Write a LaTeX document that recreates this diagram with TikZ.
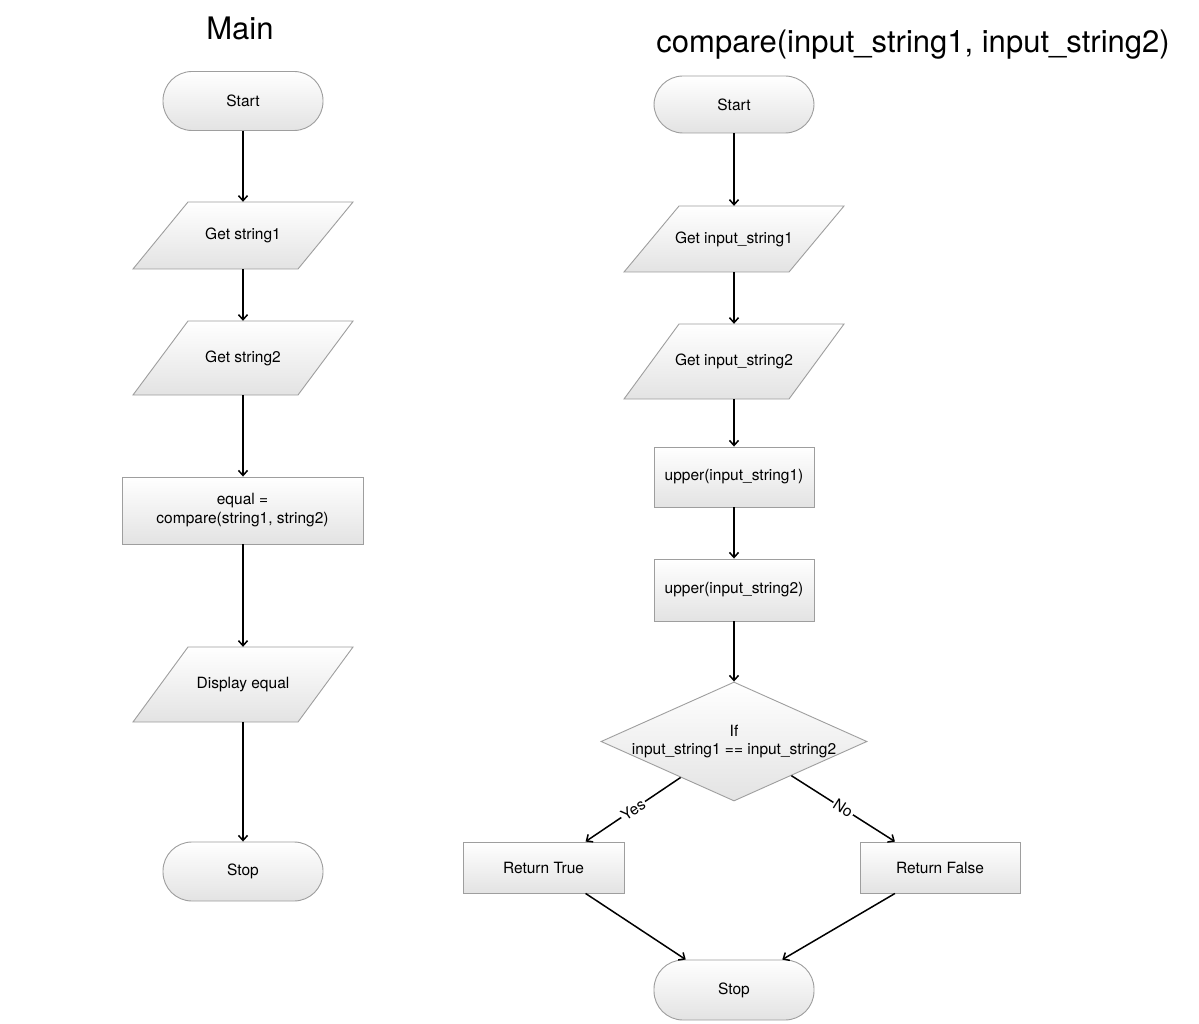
\documentclass[tikz,border=0pt]{standalone}
\usepackage{fontspec}
\setmainfont{TeX Gyre Heros}
\usetikzlibrary{shapes.geometric,arrows.meta,calc}
\tikzset{
  boxfill/.style={draw=black!38, line width=0.9pt, top color=white, bottom color=black!11},
  term/.style={boxfill, rectangle, rounded corners=29pt, minimum width=160pt, inner sep=0pt},
  procbox/.style={boxfill, rectangle, inner sep=0pt},
  iotext/.style={rectangle, inner sep=0pt, minimum width=165pt},
  flow/.style={line width=1.5pt, -{Straight Barb[length=5pt,width=9pt,line width=1.5pt]}},
  title/.style={font=\fontsize{31}{36}\selectfont},
  branch/.style={midway, sloped, fill=white, inner sep=1.5pt}
}
\newcommand\iobox[5]{%
  \path[boxfill] (#2-110,#3+#4/2) -- (#2+55,#3+#4/2) -- (#2+110,#3-#4/2) -- (#2-55,#3-#4/2) -- cycle;
  \node[iotext, minimum height=#4pt] (#1) at (#2,#3) {#5};%
}
\begin{document}
\begin{tikzpicture}[x=1pt, y=-1pt, font=\fontsize{15.5}{18}\selectfont]
\useasboundingbox[fill=white] (0,0) rectangle (1199,1024);

% ---------- Main ----------
\node[title] (tmain) at (240,28) {Main};
\node[term, minimum height=59pt] (ls) at (243,101) {Start};
\iobox{lg1}{243}{235.5}{67}{Get string1}
\iobox{lg2}{243}{358}{74}{Get string2}
\node[procbox, minimum width=241pt, minimum height=67pt, align=center] (leq) at (242.5,510.5) {equal =\\[1pt]compare(string1, string2)};
\iobox{ldisp}{243}{684.5}{75}{Display equal}
\node[term, minimum height=59pt] (lstop) at (243,871.5) {Stop};

\draw[flow] (ls.south) -- (lg1.north);
\draw[flow] (lg1.south) -- (lg2.north);
\draw[flow] (lg2.south) -- (lg2.south |- leq.north);
\draw[flow] (lg2.south |- leq.south) -- (ldisp.north);
\draw[flow] (ldisp.south) -- (lstop.north);

% ---------- compare ----------
\node[title] (tcmp) at (913,45) {compare(input\_string1, input\_string2)};
\node[term, minimum height=57pt] (rs) at (734,104.5) {Start};
\iobox{rg1}{734}{239}{66}{Get input\_string1}
\iobox{rg2}{734}{361.5}{75}{Get input\_string2}
\node[procbox, minimum width=160pt, minimum height=60pt] (ru1) at (734,477) {upper(input\_string1)};
\node[procbox, minimum width=160pt, minimum height=62pt] (ru2) at (734,590) {upper(input\_string2)};
\node[boxfill, diamond, inner sep=0pt, minimum width=266pt, minimum height=119pt] (dec) at (734,741.5)
  {\makebox[0pt]{\begin{tabular}{@{}c@{}}If\\input\_string1 == input\_string2\end{tabular}}};
\node[procbox, minimum width=161pt, minimum height=51pt] (rt) at (543.5,867.5) {Return True};
\node[procbox, minimum width=160pt, minimum height=51pt] (rf) at (940,867.5) {Return False};
\node[term, minimum height=60pt] (rstop) at (734,990) {Stop};

\draw[flow] (rs.south) -- (rg1.north);
\draw[flow] (rg1.south) -- (rg2.north);
\draw[flow] (rg2.south) -- (ru1.north);
\draw[flow] (ru1.south) -- (ru2.north);
\draw[flow] (ru2.south) -- (dec.north);
\draw[flow] ($(dec.west)!0.6!(dec.south)$) -- node[branch] {Yes} ($(rt.north west)!0.76!(rt.north east)$);
\draw[flow] ($(dec.east)!0.57!(dec.south)$) -- node[branch] {No} ($(rf.north west)!0.22!(rf.north east)$);
\draw[flow] ($(rt.south west)!0.76!(rt.south east)$) -- ($(rstop.north west)!0.2!(rstop.north east)$);
\draw[flow] ($(rf.south west)!0.22!(rf.south east)$) -- ($(rstop.north west)!0.8!(rstop.north east)$);
\end{tikzpicture}
\end{document}
